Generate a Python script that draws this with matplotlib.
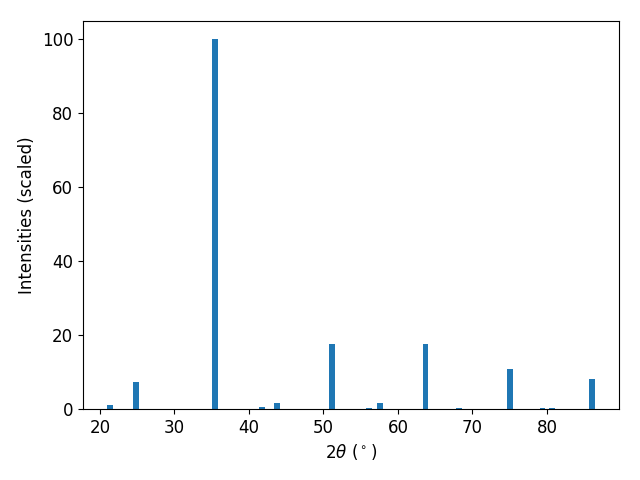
import matplotlib
matplotlib.use("Agg")
import matplotlib.pyplot as plt

two_theta = [21.4, 24.8, 35.5, 41.8, 43.8, 51.1, 56.1, 57.6, 63.7, 68.2, 75.1, 79.4, 80.7, 86.0]
intensity = [1.2, 7.4, 100.0, 0.6, 1.7, 17.5, 0.3, 1.7, 17.5, 0.3, 10.9, 0.3, 0.3, 8.0]

plt.rcParams["font.size"] = 12
fig = plt.figure(figsize=(6.4, 4.8), dpi=100)
plt.bar(two_theta, intensity, width=0.8, color="#1f77b4")
plt.xlabel(r"2$\theta$ ($^\circ$)")
plt.ylabel("Intensities (scaled)")
fig.subplots_adjust(left=83/640, right=619/640, top=1 - 21/480, bottom=1 - 409/480)
plt.savefig("out.png")
